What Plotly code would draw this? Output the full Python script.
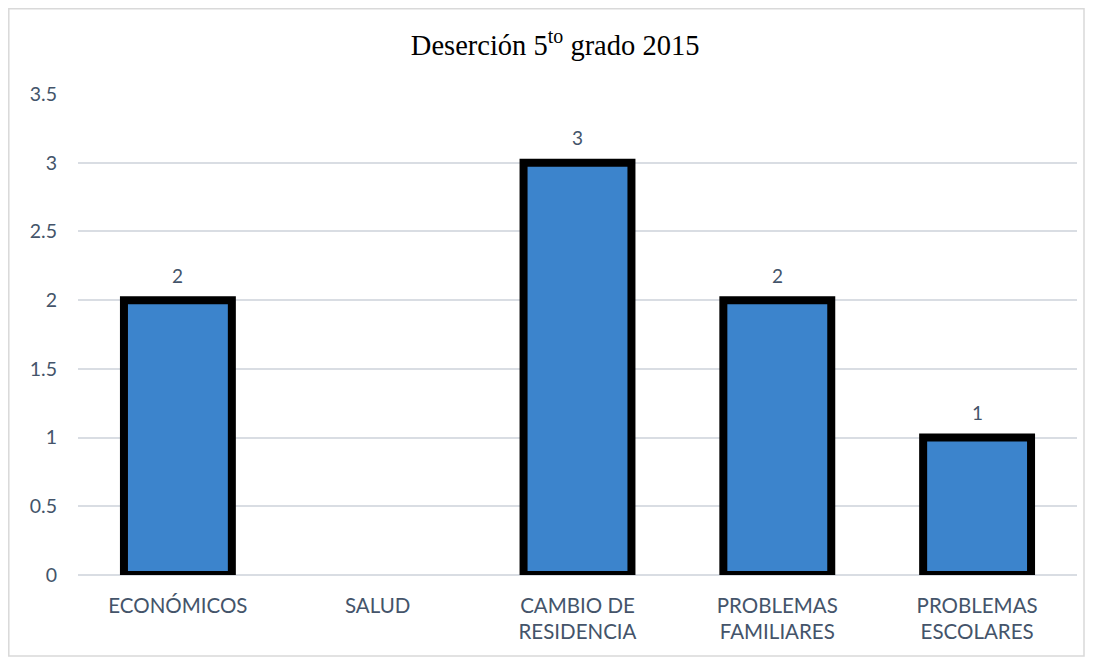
import plotly.graph_objects as go

categories = ["ECONÓMICOS", "SALUD", "CAMBIO DE<br>RESIDENCIA", "PROBLEMAS<br>FAMILIARES", "PROBLEMAS<br>ESCOLARES"]
values = [2, 0, 3, 2, 1]
tick_vals = [0, 0.5, 1, 1.5, 2, 2.5, 3, 3.5]
tick_text = ["0", "0.5", "1", "1.5", "2", "2.5", "3", "3.5"]

# page body has an 8px margin, so the figure is sized to fit inside it
W, H = 1077, 649
ml, mr, mt, mb = 70, 8, 86, 82
pw, ph = W - ml - mr, H - mt - mb
TXT = "#44546a"

fig = go.Figure()
fig.add_trace(go.Bar(
    x=categories, y=values,
    marker=dict(color="#3c84cc",
                line=dict(color="black", width=[8 if v else 0 for v in values])),
    cliponaxis=False,
))

for c, v in zip(categories, values):
    if v:
        fig.add_annotation(x=c, y=v, text=str(v), showarrow=False, yshift=25,
                           font=dict(family="Lato", size=19, color=TXT))

fig.update_layout(
    width=W, height=H,
    margin=dict(l=ml, r=mr, t=mt, b=mb, autoexpand=False),
    paper_bgcolor="white", plot_bgcolor="white",
    bargap=0.46,
    showlegend=False,
    title=dict(text="Deserción 5<sup>to</sup> grado 2015", x=0.508,
               xanchor="center", y=1 - 37 / H, yanchor="middle",
               font=dict(family="Liberation Serif", size=28.5, color="black")),
    xaxis=dict(tickfont=dict(family="Lato", size=20.5, color=TXT),
               showgrid=False, showline=False, ticks="", automargin=False,
               ticklabelstandoff=16),
    yaxis=dict(range=[0, 3.5], tickvals=tick_vals, ticktext=tick_text,
               tickfont=dict(family="Lato", size=19.5, color=TXT),
               gridcolor="#d9dde3", gridwidth=1.5, zeroline=True, zerolinecolor="#d9dde3",
               zerolinewidth=1.5, showline=False, ticks="", ticklabelstandoff=20,
               automargin=False),
    shapes=[dict(type="rect", xref="paper", yref="paper",
                 x0=(0.8 - ml) / pw, x1=(W - 1 - ml) / pw,
                 y0=-(H - 1 - (H - mb)) / ph, y1=1 + (mt - 0.8) / ph,
                 line=dict(color="#d9d9d9", width=1.5), layer="below")],
)

fig.write_html("out.html")
